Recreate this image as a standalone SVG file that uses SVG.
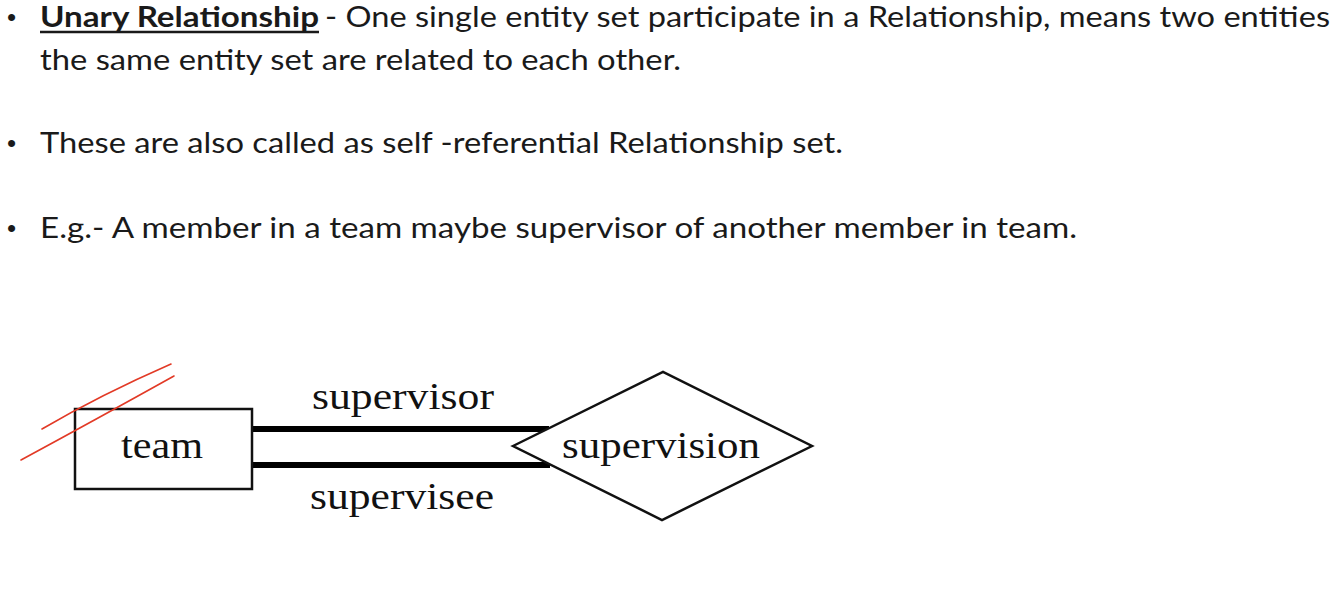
<svg xmlns="http://www.w3.org/2000/svg" width="1335" height="592" viewBox="0 0 1335 592">
<style>
.body{font-family:Lato,"Open Sans","Noto Sans",sans-serif;font-size:28px;fill:#1a1a1a}
.bullet{font-family:"Liberation Sans",Arial,sans-serif;font-size:26px;fill:#1a1a1a}
.bold{font-weight:bold}
.er{font-family:"Liberation Serif","Times New Roman",serif;font-size:38px;fill:#111}
.shape{fill:#fff;stroke:#111;stroke-width:2.5}
.conn{stroke:#000;stroke-width:6;fill:none}
.ink{stroke:#e23a26;stroke-width:1.6;fill:none;stroke-linecap:round}
</style>
<rect width="1335" height="592" fill="#fff"/>
<g id="text">
<text class="bullet" x="7" y="26">•</text>
<text class="body bold" x="40" y="27" textLength="279" lengthAdjust="spacingAndGlyphs">Unary Relationship</text>
<line x1="40" y1="32" x2="319" y2="32" stroke="#1a1a1a" stroke-width="2.5"/>
<text class="body" x="325" y="27" textLength="1005" lengthAdjust="spacingAndGlyphs">- One single entity set participate in a Relationship, means two entities</text>
<text class="body" x="40" y="70" textLength="641" lengthAdjust="spacingAndGlyphs">the same entity set are related to each other.</text>
<text class="bullet" x="7" y="152">•</text>
<text class="body" x="40" y="153" textLength="803" lengthAdjust="spacingAndGlyphs">These are also called as self -referential Relationship set.</text>
<text class="bullet" x="7" y="237">•</text>
<text class="body" x="40" y="238" textLength="1037" lengthAdjust="spacingAndGlyphs">E.g.- A member in a team maybe supervisor of another member in team.</text>
</g>
<g id="connectors">
<line class="conn" x1="252" y1="429" x2="549" y2="429"/>
<line class="conn" x1="252" y1="465" x2="550" y2="465"/>
<text class="er" x="312" y="409" textLength="182" lengthAdjust="spacingAndGlyphs">supervisor</text>
<text class="er" x="310" y="509" textLength="184" lengthAdjust="spacingAndGlyphs">supervisee</text>
</g>
<g id="team">
<rect class="shape" x="75" y="409" width="177" height="80"/>
<text class="er" x="121" y="458" textLength="82" lengthAdjust="spacingAndGlyphs">team</text>
</g>
<g id="supervision">
<polygon class="shape" points="513,446 663,372 812,446 662,520"/>
<text class="er" x="562" y="458" textLength="198" lengthAdjust="spacingAndGlyphs">supervision</text>
</g>
<g id="annotation">
<path class="ink" d="M42,429 Q100,395 171,364"/>
<path class="ink" d="M21,460 Q95,420 174,376"/>
</g>
</svg>
